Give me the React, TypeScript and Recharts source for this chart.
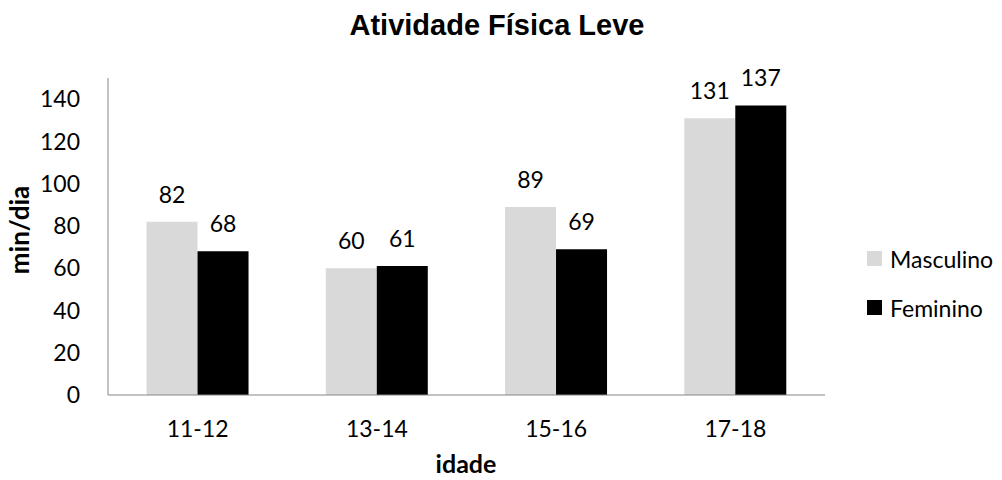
import React from 'react';
import { BarChart, Bar, XAxis, YAxis, Legend, LabelList } from 'recharts';

const faixas = ['11-12', '13-14', '15-16', '17-18'];
const masculino = [82, 60, 89, 131];
const feminino = [68, 61, 69, 137];
const yTicks = [0, 20, 40, 60, 80, 100, 120, 140];
const seriesOrder = ['Masculino', 'Feminino'];

const data = faixas.map((idade, i) => ({
  idade,
  Masculino: masculino[i],
  Feminino: feminino[i],
}));

const FONT = 'Lato, "Noto Sans", sans-serif';
const AXIS_GRAY = '#868686';
const TICK_SIZE = 23;

const renderLegend = (props: any) => {
  const payload = [...(props.payload || [])].sort(
    (a: any, b: any) => seriesOrder.indexOf(a.value) - seriesOrder.indexOf(b.value)
  );
  return (
    <div style={{ fontFamily: FONT, fontSize: TICK_SIZE, color: '#000' }}>
      {payload.map((entry: any, index: number) => (
        <div
          key={`item-${index}`}
          style={{ display: 'flex', alignItems: 'center', height: 49 }}
        >
          <span
            style={{
              display: 'inline-block',
              width: 15,
              height: 15,
              background: entry.color,
              marginRight: 8,
            }}
          />
          <span>{entry.value}</span>
        </div>
      ))}
    </div>
  );
};

export default function App() {
  return (
    <div style={{ position: 'absolute', left: 0, top: 0, width: 1002, height: 480, background: '#fff' }}>
      <BarChart
        width={1002}
        height={480}
        data={data}
        margin={{ top: 78, right: 177, bottom: 45, left: 48 }}
        barCategoryGap="21.5%"
        barGap={0}
      >
        <XAxis
          dataKey="idade"
          height={40}
          stroke={AXIS_GRAY}
          tickLine={false}
          tickSize={0}
          tickMargin={26}
          tick={{ fill: '#000', fontFamily: FONT, fontSize: TICK_SIZE }}
        />
        <YAxis
          width={60}
          domain={[0, 150]}
          ticks={yTicks}
          stroke={AXIS_GRAY}
          tickLine={false}
          tickSize={0}
          tickMargin={28}
          tick={{ fill: '#000', fontFamily: FONT, fontSize: TICK_SIZE }}
        />
        <Legend
          layout="vertical"
          align="center"
          verticalAlign="middle"
          content={renderLegend}
          wrapperStyle={{ left: 867, top: 234, width: 135 }}
        />
        <Bar dataKey="Masculino" fill="#d9d9d9" isAnimationActive={false}>
          <LabelList
            dataKey="Masculino"
            position="top"
            offset={19}
            fill="#000"
            fontFamily={FONT}
            fontSize={TICK_SIZE}
          />
        </Bar>
        <Bar dataKey="Feminino" fill="#000000" isAnimationActive={false}>
          <LabelList
            dataKey="Feminino"
            position="top"
            offset={19}
            fill="#000"
            fontFamily={FONT}
            fontSize={TICK_SIZE}
          />
        </Bar>
      </BarChart>
      <svg
        width={1002}
        height={480}
        style={{ position: 'absolute', left: 0, top: 0, pointerEvents: 'none' }}
      >
        <text
          x={497}
          y={35}
          textAnchor="middle"
          fontFamily='"Liberation Sans", Arial, sans-serif'
          fontWeight="bold"
          fontSize={29}
        >
          Atividade Física Leve
        </text>
        <text
          x={19}
          y={230}
          textAnchor="middle"
          dominantBaseline="central"
          transform="rotate(-90 19 230)"
          fontFamily={FONT}
          fontWeight="bold"
          fontSize={26}
        >
          min/dia
        </text>
        <text
          x={466}
          y={473}
          textAnchor="middle"
          fontFamily={FONT}
          fontWeight="bold"
          fontSize={25}
        >
          idade
        </text>
      </svg>
    </div>
  );
}
